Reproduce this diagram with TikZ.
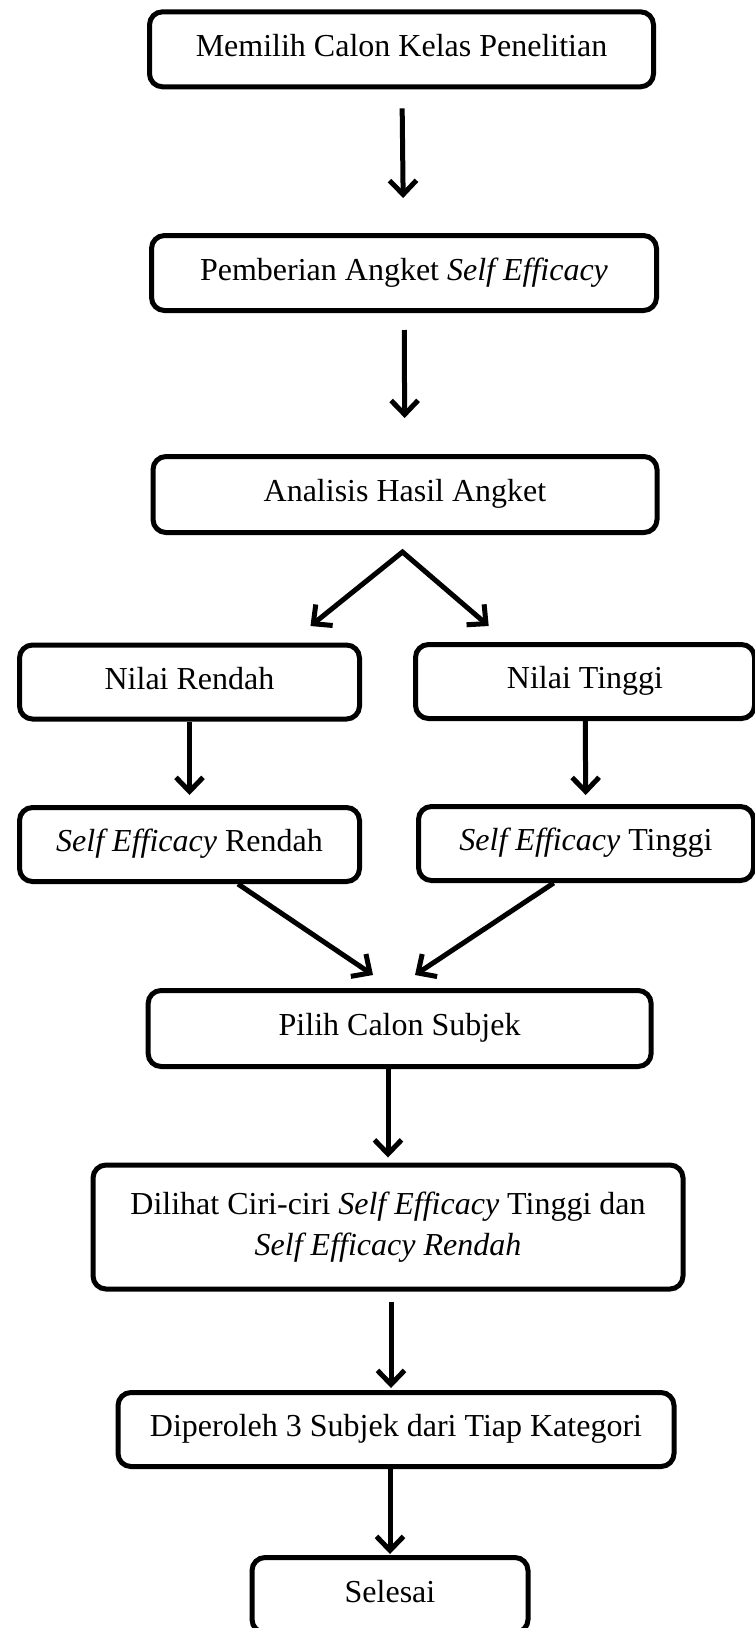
\documentclass[tikz,border=0pt]{standalone}
\usepackage{fontspec}
\setmainfont{Liberation Serif}
\usetikzlibrary{arrows.meta,calc}

\begin{document}
\begin{tikzpicture}[x=1pt,y=-1pt,
   kotak/.style={draw=black,line width=5pt,rounded corners=13pt,inner sep=0pt,align=center,font=\fontsize{32}{41}\selectfont},
   satu/.style={text height=22pt,text depth=8pt},
   >={Straight Barb[length=14pt,width=27pt]},
   panah/.style={line width=5pt,->}]
\useasboundingbox (0,0) rectangle (755,1628);
\path (401.5,49.3) node (kelas) [kotak,satu,minimum width=504pt,minimum height=75pt] {Memilih Calon Kelas Penelitian}
      (404,273) node (angket) [kotak,satu,minimum width=505pt,minimum height=75pt] {Pemberian Angket \textit{Self Efficacy}}
      (405,494.5) node (analisis) [kotak,satu,minimum width=504pt,minimum height=76pt] {Analisis Hasil Angket}
      (189.5,682) node (nrendah) [kotak,satu,minimum width=340pt,minimum height=74pt] {Nilai Rendah}
      (585,681.5) node (ntinggi) [kotak,satu,minimum width=339pt,minimum height=74pt] {Nilai Tinggi}
      (189.5,844.5) node (serendah) [kotak,satu,minimum width=340pt,minimum height=74pt] {\textit{Self Efficacy} Rendah}
      (586,843.5) node (setinggi) [kotak,satu,minimum width=335pt,minimum height=74pt] {\textit{Self Efficacy} Tinggi}
      (399.6,1028.5) node (subjek) [kotak,satu,minimum width=503pt,minimum height=76pt] {Pilih Calon Subjek}
      (388,1227) node (ciri) [kotak,minimum width=590pt,minimum height=124pt] {Dilihat Ciri-ciri \textit{Self Efficacy} Tinggi dan\\ \textit{Self Efficacy Rendah}}
      (396,1429.5) node (tiga) [kotak,satu,minimum width=556pt,minimum height=74pt] {Diperoleh 3 Subjek dari Tiap Kategori}
      (390,1595) node (selesai) [kotak,satu,minimum width=276pt,minimum height=75pt] {Selesai};
\coordinate (cabang) at (402.5,552);
\coordinate (kekiri) at (310.5,626);
\coordinate (kekanan) at (488.7,626);
\coordinate (masukkiri) at (373,975);
\coordinate (masukkanan) at (415,975);
\draw [panah,shorten <=19pt,shorten >=35pt] (kelas) -- (angket);
\draw [panah,shorten <=17pt,shorten >=36pt] (angket) -- (analisis);
\draw [panah,<->,line join=miter] (kekiri) -- (cabang) -- (kekanan);
\draw [panah,shorten >=10pt] (nrendah) -- (serendah);
\draw [panah,shorten >=9pt] (ntinggi) -- (setinggi);
\draw [panah] ([xshift=48.5pt]serendah.south) -- (masukkiri);
\draw [panah] ([xshift=-32.3pt]setinggi.south) -- (masukkanan);
\draw [panah,shorten >=5pt] (subjek.south -| ciri.north) -- (ciri.north);
\draw [panah,shorten <=10pt,shorten >=2pt] ([xshift=3pt]ciri.south) -- ([xshift=3pt]ciri.south |- tiga.north);
\draw [panah,shorten >=1pt] (tiga.south -| selesai.north) -- (selesai.north);
\end{tikzpicture}
\end{document}
